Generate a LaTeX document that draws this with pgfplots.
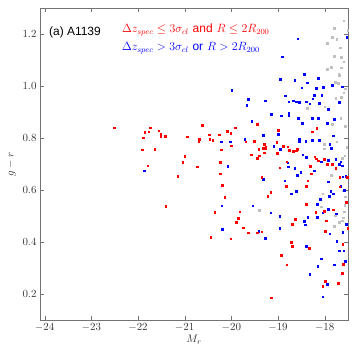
\documentclass[border=0pt]{standalone}
\usepackage{fontspec}
\usepackage{pgfplots}
\pgfplotsset{compat=1.18}
\newfontfamily\hv{Liberation Sans}
\definecolor{ptred}{HTML}{FF0000}
\definecolor{ptblue}{HTML}{0000FF}
\definecolor{ptgray}{HTML}{C0C0C0}

\begin{document}
\begin{tikzpicture}
\begin{axis}[
  scale only axis,width=308bp,height=312bp,
  xmin=-24.1,xmax=-17.5,ymin=0.1,ymax=1.3,
  xtick={-24,-23,-22,-21,-20,-19,-18},
  ytick={0.2,0.4,0.6,0.8,1.0,1.2},
  yticklabel style={/pgf/number format/.cd,fixed,fixed zerofill,precision=1},
  tick align=inside,major tick length=4bp,
  axis line style={black!55},tick style={black!55},
  tick label style={font=\fontsize{11}{12}\selectfont,text=black!80},
  label style={font=\fontsize{11}{12}\selectfont,text=black!80},
  xlabel={$M_r$},ylabel={$g-r$},
  xlabel style={yshift=3bp},
  clip=false
]
% non-members outside the colour cut
\addplot[only marks,mark=square*,mark size=0.8bp,ptgray] coordinates {
(-17.59,1.251) (-17.51,1.215) (-17.79,1.222) (-17.84,1.188) (-17.74,1.181)
(-17.94,1.164) (-17.67,1.147) (-17.80,1.114) (-17.64,1.110) (-17.59,1.093)
(-17.86,1.073) (-17.94,1.064) (-17.65,1.070) (-17.70,1.047) (-17.69,1.042)
(-17.78,1.015) (-17.71,1.010) (-17.56,0.990) (-17.59,0.974) (-17.65,0.958)
(-17.76,0.953) (-18.38,0.915) (-18.00,0.920) (-17.84,0.854) (-17.56,0.846)
(-17.66,0.876) (-17.74,0.786) (-18.01,0.776) (-18.01,0.759) (-17.53,0.764)
(-17.63,0.722) (-17.57,0.732) (-17.86,0.657) (-18.04,0.586) (-17.60,0.597)
(-17.56,0.574) (-18.07,0.535) (-17.57,0.542) (-17.58,0.517) (-17.77,0.501)
(-17.69,0.476) (-17.62,0.482) (-17.60,0.493) (-19.40,0.522) (-17.80,0.460)
};
% non-members
\addplot[only marks,mark=square*,mark size=0.8bp,ptblue] coordinates {
(-21.87,0.674) (-19.56,0.864) (-19.32,0.810) (-20.22,0.785) (-20.03,0.786)
(-19.71,0.795) (-20.08,0.692) (-19.32,0.642) (-20.21,0.540) (-19.54,0.540)
(-20.19,0.449) (-19.41,0.442)
(-19.99,0.983) (-19.64,0.949) (-19.67,0.926) (-17.53,1.188) (-18.58,1.182)
(-18.91,1.113) (-18.44,1.045) (-18.14,1.030) (-18.95,1.027) (-18.64,1.023)
(-18.37,1.013) (-17.84,1.004) (-18.03,0.995) (-18.18,0.992) (-18.49,0.993)
(-17.62,0.997) (-18.23,0.965) (-18.06,0.965) (-18.84,0.963) (-19.28,0.943)
(-18.77,0.940) (-18.68,0.943) (-18.61,0.940) (-18.54,0.938) (-18.39,0.940)
(-18.32,0.932) (-18.12,0.933) (-17.69,0.937) (-18.26,0.951) (-17.93,0.910)
(-19.14,0.892) (-18.77,0.896)
(-18.93,0.885) (-18.77,0.885) (-18.57,0.876) (-18.48,0.858) (-18.27,0.876)
(-18.14,0.876) (-17.94,0.857) (-17.80,0.873) (-18.99,0.815) (-17.82,0.809)
(-18.55,0.796) (-18.54,0.786) (-18.41,0.787) (-18.27,0.791) (-18.12,0.792)
(-17.89,0.776) (-19.09,0.769) (-18.95,0.758) (-17.86,0.760) (-18.47,0.735)
(-18.40,0.726) (-18.07,0.709) (-17.92,0.715) (-17.76,0.718) (-17.69,0.699)
(-17.66,0.709) (-18.79,0.705) (-18.78,0.690) (-18.64,0.683) (-17.63,0.693)
(-18.51,0.668) (-18.59,0.658) (-18.23,0.674) (-17.61,0.651) (-17.55,0.654)
(-18.86,0.636) (-17.92,0.632) (-17.66,0.615) (-18.61,0.596) (-18.72,0.585)
(-17.87,0.596) (-17.82,0.585) (-17.90,0.576) (-17.58,0.599) (-18.10,0.565)
(-18.16,0.545) (-17.92,0.526) (-18.04,0.513) (-17.75,0.509) (-19.16,0.513)
(-18.96,0.500) (-18.44,0.480) (-18.42,0.467) (-18.36,0.495) (-18.16,0.495)
(-17.54,0.469) (-18.96,0.454) (-17.89,0.432) (-17.61,0.437) (-19.27,0.414)
(-17.74,0.404) (-18.39,0.385) (-17.69,0.367) (-17.59,0.367) (-18.08,0.336)
(-17.56,0.327) (-17.79,0.313) (-18.15,0.308) (-18.32,0.276) (-17.94,0.238)
(-18.04,0.190)
};
% members
\addplot[only marks,mark=square*,mark size=0.8bp,ptred] coordinates {
(-22.51,0.840) (-21.74,0.840) (-21.86,0.822) (-21.77,0.824) (-21.56,0.828)
(-21.51,0.815) (-21.51,0.807) (-21.42,0.808) (-21.89,0.801) (-20.94,0.805)
(-20.69,0.796) (-21.91,0.755) (-21.64,0.758) (-21.00,0.731) (-21.04,0.707)
(-21.79,0.693) (-20.73,0.690) (-21.15,0.654) (-21.41,0.538)
(-20.63,0.850) (-19.92,0.840) (-20.09,0.827) (-20.01,0.819) (-20.48,0.812)
(-20.26,0.812) (-20.70,0.787) (-20.46,0.796) (-20.40,0.791) (-19.69,0.786)
(-19.51,0.787) (-20.00,0.770) (-20.22,0.755) (-19.41,0.758) (-19.32,0.760)
(-19.57,0.735) (-19.40,0.732) (-19.44,0.722) (-20.24,0.708) (-20.24,0.662)
(-19.35,0.649) (-20.20,0.619) (-20.14,0.573) (-20.36,0.515) (-19.82,0.517)
(-19.45,0.854)
(-19.85,0.491) (-19.90,0.476) (-19.74,0.455) (-19.64,0.436) (-19.45,0.436)
(-19.35,0.440) (-20.44,0.419) (-20.01,0.412)
(-18.17,0.838) (-18.27,0.824) (-19.00,0.830) (-19.03,0.783) (-19.29,0.776)
(-19.28,0.760) (-19.29,0.744) (-19.26,0.765) (-18.89,0.769) (-18.79,0.767)
(-18.76,0.754) (-18.68,0.750) (-18.61,0.751) (-18.59,0.757) (-19.02,0.742)
(-18.21,0.728) (-18.18,0.720) (-18.14,0.712) (-18.01,0.718) (-17.84,0.700)
(-17.94,0.699) (-18.81,0.709) (-18.96,0.685) (-18.31,0.691) (-17.76,0.683)
(-18.29,0.663) (-17.68,0.650) (-17.52,0.650) (-18.36,0.635) (-18.83,0.615)
(-18.39,0.615) (-17.68,0.612) (-19.16,0.591) (-19.22,0.577) (-18.39,0.545)
(-18.01,0.519) (-18.19,0.514) (-17.54,0.553) (-17.82,0.524)
(-18.63,0.487) (-17.97,0.482) (-18.70,0.469) (-17.99,0.442) (-17.51,0.453)
(-18.72,0.400) (-17.61,0.392) (-18.69,0.385) (-18.33,0.376) (-18.93,0.350)
(-18.81,0.312) (-17.60,0.315) (-17.63,0.281) (-17.99,0.249) (-17.71,0.242)
(-18.04,0.230) (-19.14,0.186)
};
\node[anchor=west,inner sep=0pt,font=\fontsize{12}{14}\selectfont]
  at (rel axis cs:0.029,0.923) {\hv (a) A1139};
\node[anchor=west,inner sep=0pt,text=ptred,font=\fontsize{12}{14}\selectfont]
  at (rel axis cs:0.266,0.929)
  {$\Delta z_{spec}\leq 3\sigma_{cl}$ {\hv and} $R\leq 2R_{200}$};
\node[anchor=west,inner sep=0pt,text=ptblue,font=\fontsize{12}{14}\selectfont]
  at (rel axis cs:0.266,0.872)
  {$\Delta z_{spec}> 3\sigma_{cl}$ {\hv or} $R> 2R_{200}$};
\end{axis}
\pgfresetboundingbox
\useasboundingbox ([shift={(-40bp,-37bp)}]current axis.south west)
  rectangle ([shift={(9bp,8bp)}]current axis.north east);
\end{tikzpicture}
\end{document}
